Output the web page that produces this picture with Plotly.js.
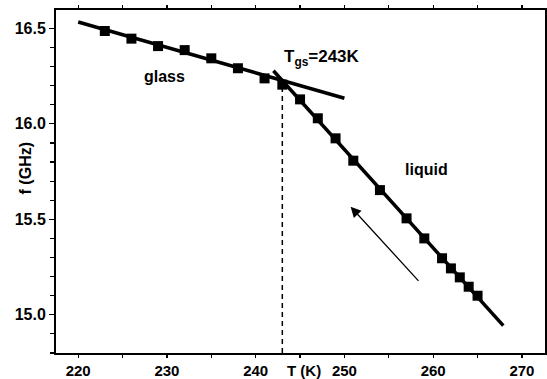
<!DOCTYPE html>
<html><head><meta charset="utf-8">
<script src="https://cdn.plot.ly/plotly-3.0.1.min.js"></script>
<style>
html,body{margin:0;padding:0;background:#fff}
#chart{width:547px;height:379px}
</style>
</head><body><div id="chart"></div>
<script>
// measured points (temperature K, frequency GHz)
const T_glass = [223, 226, 229, 232, 235, 238, 241, 243];
const f_glass = [16.486, 16.446, 16.407, 16.386, 16.343, 16.291, 16.238, 16.205];
const T_liquid = [245, 247, 249, 251, 254, 257, 259, 261, 262, 263, 264, 265];
const f_liquid = [16.128, 16.029, 15.924, 15.807, 15.653, 15.505, 15.40, 15.296, 15.243, 15.196, 15.147, 15.10];
// linear fit lines
const glassFitT = [220, 250];
const glassFitF = [16.533, 16.134];
const liquidFitT = [242, 267.9];
const liquidFitF = [16.278, 14.943];
// glass transition
const Tgs = 243;
const TgsLineF = [14.8, 16.21];

const FONT = 'Liberation Sans, Arial, Helvetica, sans-serif';
const data = [
  {x: glassFitT, y: glassFitF, mode: 'lines', line: {color: '#000', width: 3.5}, hoverinfo: 'skip'},
  {x: liquidFitT, y: liquidFitF, mode: 'lines', line: {color: '#000', width: 3.5}, hoverinfo: 'skip'},
  {x: [Tgs, Tgs], y: TgsLineF, mode: 'lines', line: {color: '#000', width: 1.5, dash: '5px,4px'}},
  {x: T_glass.concat(T_liquid), y: f_glass.concat(f_liquid), mode: 'markers',
   marker: {symbol: 'square', size: 10, color: '#000'}}
];
function axis(extra) {
  return Object.assign({
    showgrid: false, zeroline: false, showline: true, linecolor: '#000', linewidth: 2,
    mirror: 'ticks', ticks: 'outside', ticklen: 5, tickwidth: 1.2, tickcolor: '#000',
    tickfont: {family: FONT, size: 16, weight: 'bold', color: '#000'}
  }, extra);
}
const layout = {
  width: 547, height: 379,
  margin: {l: 56, r: 2, t: 10, b: 26},
  paper_bgcolor: '#fff', plot_bgcolor: '#fff',
  showlegend: false,
  xaxis: axis({range: [217.5, 272.6], dtick: 10, tick0: 220, ticklen: 3,
    tickfont: {family: FONT, size: 15, weight: 'bold', color: '#000'},
    minor: {dtick: 5, ticklen: 3, ticks: 'outside', tickcolor: '#000'}}),
  yaxis: axis({range: [14.8, 16.596], dtick: 0.5, tick0: 15, tickformat: '.1f',
    minor: {dtick: 0.1, ticklen: 4, ticks: 'outside', tickcolor: '#000'}}),
  annotations: [
    {x: 229.75, y: 16.25, text: '<b>glass</b>', showarrow: false, font: {family: FONT, size: 16, color: '#000'}},
    {x: 259.3, y: 15.76, text: '<b>liquid</b>', showarrow: false, font: {family: FONT, size: 16, color: '#000'}},
    {x: Tgs, y: 16.345, xanchor: 'left', text: '<b>T<sub>gs</sub>=243K</b>', showarrow: false, font: {family: FONT, size: 17, color: '#000'}},
    {x: 250.7, y: 15.566, ax: 258.5, ay: 15.17, axref: 'x', ayref: 'y', text: '', showarrow: true,
     arrowhead: 2, arrowsize: 1.6, arrowwidth: 1.3, arrowcolor: '#000'},
    {x: 245.45, y: 0, yref: 'paper', yanchor: 'top', yshift: -7, text: '<b>T (K)</b>', showarrow: false, font: {family: FONT, size: 15, color: '#000'}},
    {x: 0, xref: 'paper', xanchor: 'right', xshift: -20, y: 15.764, text: '<b>f (GHz)</b>', textangle: -90, showarrow: false, font: {family: FONT, size: 16, color: '#000'}}
  ]
};
Plotly.newPlot('chart', data, layout, {displayModeBar: false, staticPlot: true});
</script></body></html>
